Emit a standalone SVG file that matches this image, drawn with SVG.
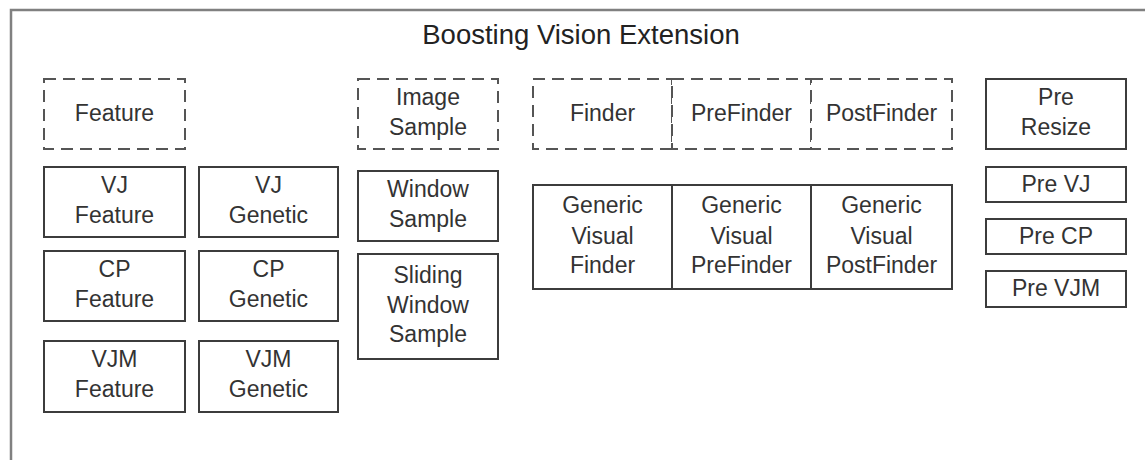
<svg xmlns="http://www.w3.org/2000/svg" width="1145" height="460" viewBox="0 0 1145 460">
<style>
.frame{fill:#fff;stroke:#808080;stroke-width:2.5}
.box{fill:#fff;stroke:#3c3c3c;stroke-width:2}
.dash{fill:#fff;stroke:#555;stroke-width:2;stroke-dasharray:12 7}
text{font-family:"Liberation Sans",Arial,sans-serif;font-size:23px;fill:#333;text-anchor:middle}
.title{font-size:27.5px;fill:#222}
</style>
<rect x="0" y="0" width="1145" height="460" fill="#fff"/>
<rect class="frame" x="11" y="10" width="1200" height="520"/>
<text class="title" x="581" y="44">Boosting Vision Extension</text>
<g id="feature"><rect class="dash" x="44" y="79" width="141" height="70"/><text x="114.5" y="121">Feature</text></g>
<g id="vj-feature"><rect class="box" x="44" y="167" width="141" height="70"/><text x="114.5" y="193">VJ</text><text x="114.5" y="223">Feature</text></g>
<g id="vj-genetic"><rect class="box" x="199" y="167" width="139" height="70"/><text x="268.5" y="193">VJ</text><text x="268.5" y="223">Genetic</text></g>
<g id="cp-feature"><rect class="box" x="44" y="251" width="141" height="70"/><text x="114.5" y="277">CP</text><text x="114.5" y="307">Feature</text></g>
<g id="cp-genetic"><rect class="box" x="199" y="251" width="139" height="70"/><text x="268.5" y="277">CP</text><text x="268.5" y="307">Genetic</text></g>
<g id="vjm-feature"><rect class="box" x="44" y="341" width="141" height="71"/><text x="114.5" y="367">VJM</text><text x="114.5" y="397">Feature</text></g>
<g id="vjm-genetic"><rect class="box" x="199" y="341" width="139" height="71"/><text x="268.5" y="367">VJM</text><text x="268.5" y="397">Genetic</text></g>
<g id="image-sample"><rect class="dash" x="358" y="79" width="140" height="70"/><text x="428" y="105">Image</text><text x="428" y="135">Sample</text></g>
<g id="window-sample"><rect class="box" x="358" y="171" width="140" height="70"/><text x="428" y="197">Window</text><text x="428" y="227">Sample</text></g>
<g id="sliding-window-sample"><rect class="box" x="358" y="254" width="140" height="105"/><text x="428" y="283">Sliding</text><text x="428" y="313">Window</text><text x="428" y="342">Sample</text></g>
<g id="finder"><rect class="dash" x="533" y="79" width="139" height="70"/><text x="602.5" y="121">Finder</text></g>
<g id="prefinder"><rect class="dash" x="672" y="79" width="139" height="70"/><text x="741.5" y="121">PreFinder</text></g>
<g id="postfinder"><rect class="dash" x="811" y="79" width="141" height="70"/><text x="881.5" y="121">PostFinder</text></g>
<g id="generic-visual-finder"><rect class="box" x="533" y="185" width="139" height="104"/><text x="602.5" y="213">Generic</text><text x="602.5" y="244">Visual</text><text x="602.5" y="273">Finder</text></g>
<g id="generic-visual-prefinder"><rect class="box" x="672" y="185" width="139" height="104"/><text x="741.5" y="213">Generic</text><text x="741.5" y="244">Visual</text><text x="741.5" y="273">PreFinder</text></g>
<g id="generic-visual-postfinder"><rect class="box" x="811" y="185" width="141" height="104"/><text x="881.5" y="213">Generic</text><text x="881.5" y="244">Visual</text><text x="881.5" y="273">PostFinder</text></g>
<g id="pre-resize"><rect class="box" x="986" y="79" width="140" height="70"/><text x="1056" y="105">Pre</text><text x="1056" y="135">Resize</text></g>
<g id="pre-vj"><rect class="box" x="986" y="167" width="140" height="35"/><text x="1056" y="192">Pre VJ</text></g>
<g id="pre-cp"><rect class="box" x="986" y="219" width="140" height="35"/><text x="1056" y="244">Pre CP</text></g>
<g id="pre-vjm"><rect class="box" x="986" y="271" width="140" height="36"/><text x="1056" y="296">Pre VJM</text></g>
<g id="connectors"></g>
</svg>
